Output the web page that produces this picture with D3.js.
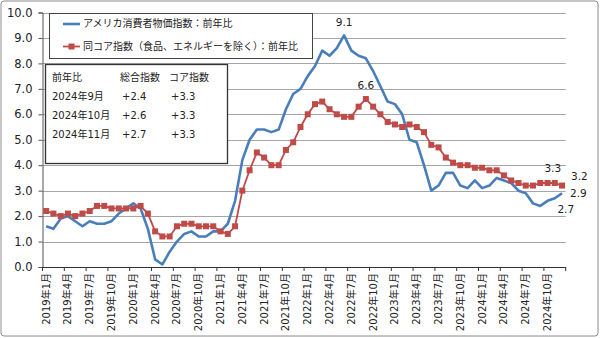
<!DOCTYPE html>
<html><head><meta charset="utf-8">
<script src="https://cdn.jsdelivr.net/npm/d3@7"></script>
<style>
html,body{margin:0;padding:0;background:#fff;}
svg{display:block;}
text{font-family:"DejaVu Sans","Noto Sans CJK JP",sans-serif;fill:#222;}
</style></head>
<body><svg id="c" width="600" height="338"></svg>
<script>
const months = [];
for (let y = 2019; y <= 2024; y++) for (let m = 1; m <= 12; m++) months.push(y + "年" + m + "月");
const cpi = [1.6,1.5,1.9,2.0,1.8,1.6,1.8,1.7,1.7,1.8,2.1,2.3,
  2.5,2.3,1.5,0.3,0.1,0.6,1.0,1.3,1.4,1.2,1.2,1.4,
  1.4,1.7,2.6,4.2,5.0,5.4,5.4,5.3,5.4,6.2,6.8,7.0,
  7.5,7.9,8.5,8.3,8.6,9.1,8.5,8.3,8.2,7.7,7.1,6.5,
  6.4,6.0,5.0,4.9,4.0,3.0,3.2,3.7,3.7,3.2,3.1,3.4,
  3.1,3.2,3.5,3.4,3.3,3.0,2.9,2.5,2.4,2.6,2.7,2.9];
const core = [2.2,2.1,2.0,2.1,2.0,2.1,2.2,2.4,2.4,2.3,2.3,2.3,
  2.3,2.4,2.1,1.4,1.2,1.2,1.6,1.7,1.7,1.6,1.6,1.6,
  1.4,1.3,1.6,3.0,3.8,4.5,4.3,4.0,4.0,4.6,4.9,5.5,
  6.0,6.4,6.5,6.2,6.0,5.9,5.9,6.3,6.6,6.3,6.0,5.7,
  5.6,5.5,5.6,5.5,5.3,4.8,4.7,4.3,4.1,4.0,4.0,3.9,
  3.9,3.8,3.8,3.6,3.4,3.3,3.2,3.2,3.3,3.3,3.3,3.2];
const yTicks = [0,1,2,3,4,5,6,7,8,9,10];
const seriesNames = ["アメリカ消費者物価指数：前年比","同コア指数（食品、エネルギーを除く）：前年比"];
const tableHeader = ["前年比","総合指数","コア指数"];
const tableRows = [["2024年9月","+2.4","+3.3"],["2024年10月","+2.6","+3.3"],["2024年11月","+2.7","+3.3"]];
const annotations = [
  {s:"cpi", i:41, t:"9.1", dx:0, dy:-12, a:"middle"},
  {s:"core", i:44, t:"6.6", dx:0, dy:-13, a:"middle"},
  {s:"core", i:70, t:"3.3", dx:-2, dy:-14, a:"middle"},
  {s:"core", i:71, t:"3.2", dx:9, dy:-9, a:"start"},
  {s:"cpi", i:71, t:"2.9", dx:8, dy:1, a:"start"},
  {s:"cpi", i:70, t:"2.7", dx:11, dy:12, a:"middle"}
];

const BLUE = "#4a7ebb", RED = "#be4b48";
const svg = d3.select("#c");
svg.append("rect").attr("x",1).attr("y",1).attr("width",597).attr("height",335)
  .attr("rx",3).attr("fill","#fff").attr("stroke","#8c8c8c").attr("stroke-width",1);

const L = 42.5, R = 565.7, T = 12.5, B = 267;
const x = d3.scaleBand().domain(months).range([L, R]).padding(0);
const y = d3.scaleLinear().domain([0, 10]).range([B, T]);
const cx = d => x(d) + x.bandwidth()/2;

// gridlines
svg.append("g").selectAll("line").data(yTicks.filter(v=>v>0)).join("line")
  .attr("x1", L).attr("x2", R).attr("y1", d=>Math.round(y(d))+0.5).attr("y2", d=>Math.round(y(d))+0.5)
  .attr("stroke","#a6a6a6").attr("stroke-width",1);

// y axis
const ya = svg.append("g").attr("transform",`translate(${L},0)`)
  .call(d3.axisLeft(y).tickValues(yTicks).tickFormat(d3.format(".1f")).tickSize(4).tickPadding(6));
ya.select(".domain").attr("stroke","#555");
ya.selectAll(".tick line").attr("stroke","#555");
ya.selectAll("text").attr("font-size","11.5px").attr("fill","#222");

// x axis
const tickMonths = months.filter((d,i)=>i%3===0);
const xa = svg.append("g").attr("transform",`translate(0,${B})`)
  .call(d3.axisBottom(x).tickValues(tickMonths).tickSize(0).tickPadding(6));
xa.select(".domain").attr("stroke","#333");
xa.selectAll(".tick text").attr("font-size","10px").attr("fill","#222")
  .attr("text-anchor","end").attr("transform","rotate(-90)").attr("dx","-6").attr("dy","0.35em").attr("y",0).attr("x",0);
// tick marks at category boundaries
const bounds = tickMonths.map(d=>x(d)).concat([R]);
svg.append("g").selectAll("line").data(bounds).join("line")
  .attr("x1",d=>d).attr("x2",d=>d).attr("y1",B).attr("y2",B+4).attr("stroke","#333");

// lines
const line = d3.line().x((d,i)=>cx(months[i])).y(d=>y(d));
svg.append("path").datum(cpi).attr("d",line).attr("fill","none").attr("stroke",BLUE)
  .attr("stroke-width",2.6).attr("stroke-linejoin","round");
svg.append("path").datum(core).attr("d",line).attr("fill","none").attr("stroke",RED)
  .attr("stroke-width",1.8);
svg.append("g").selectAll("rect").data(core).join("rect")
  .attr("x",(d,i)=>cx(months[i])-3).attr("y",d=>y(d)-3).attr("width",6).attr("height",6)
  .attr("fill",RED);

// annotations
const ser = {cpi, core};
svg.append("g").selectAll("text").data(annotations).join("text")
  .attr("x",d=>cx(months[d.i])+d.dx).attr("y",d=>y(ser[d.s][d.i])+d.dy)
  .attr("text-anchor",d=>d.a).attr("dominant-baseline","middle")
  .attr("font-size","10.5px").text(d=>d.t);

// legend
const lg = svg.append("g");
lg.append("rect").attr("x",49.5).attr("y",13.5).attr("width",263).attr("height",45)
  .attr("fill","#fff").attr("stroke","#444").attr("stroke-width",1);
lg.append("line").attr("x1",63).attr("x2",80).attr("y1",24).attr("y2",24).attr("stroke",BLUE).attr("stroke-width",2.6);
lg.append("line").attr("x1",63).attr("x2",80).attr("y1",46.5).attr("y2",46.5).attr("stroke",RED).attr("stroke-width",1.8);
lg.append("rect").attr("x",68.5).attr("y",43.5).attr("width",6).attr("height",6).attr("fill",RED);
lg.selectAll("text.l").data(seriesNames).join("text").attr("class","l")
  .attr("x",83).attr("y",(d,i)=>i===0?24:46.5).attr("dominant-baseline","middle")
  .attr("font-size","10px").text(d=>d);

// table box
const tb = svg.append("g");
tb.append("rect").attr("x",45.5).attr("y",64.5).attr("width",182).attr("height",99)
  .attr("fill","#fff").attr("stroke","#333").attr("stroke-width",1.3);
const colX = [52, 120, 169];
const valX = [52, 122, 171];
tb.selectAll("text.h").data(tableHeader).join("text").attr("class","h")
  .attr("x",(d,i)=>colX[i]).attr("y",77.5).attr("dominant-baseline","middle")
  .attr("font-size","10px").text(d=>d);
tableRows.forEach((row, r) => {
  tb.selectAll("text.r"+r).data(row).join("text").attr("class","r"+r)
    .attr("x",(d,i)=>valX[i]).attr("y",96.5 + r*19.3).attr("dominant-baseline","middle")
    .attr("font-size","10px").text(d=>d);
});
</script></body></html>
